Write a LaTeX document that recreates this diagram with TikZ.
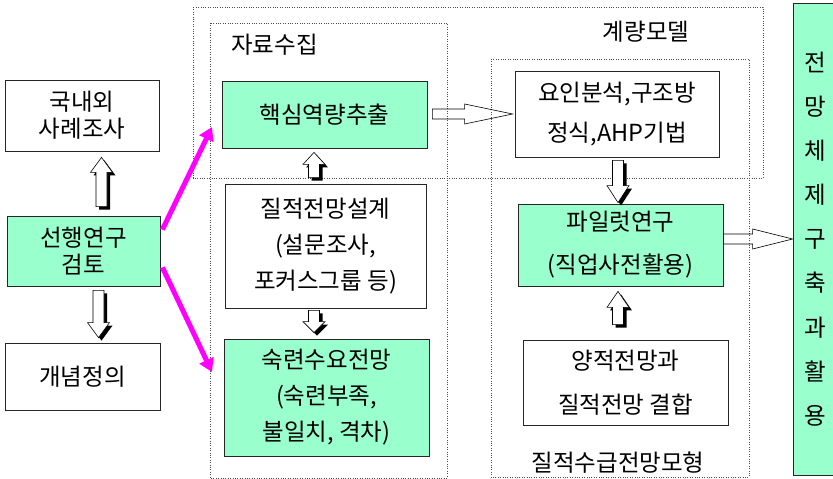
\documentclass[tikz,border=0pt]{standalone}
\usepackage{fontspec}
\newfontfamily\kr{Noto Sans CJK KR}
\usetikzlibrary{calc,arrows.meta}
\definecolor{mint}{RGB}{153,255,204}
\definecolor{magn}{RGB}{255,0,255}
\newcommand\vpoly[4]{let \p1=(#1), \p2=(#2), \n1={sign(\y2-\y1)}, \n2={#4} in
 ({\x1-5.5pt+\n2},{\y1-\n2}) -- ({\x1-5.5pt+\n2},{\y2-\n1*#3-\n2}) -- ({\x1-11pt+\n2},{\y2-\n1*#3-\n2}) -- ({\x1+\n2},{\y2-\n2}) -- ({\x1+11pt+\n2},{\y2-\n1*#3-\n2}) -- ({\x1+5.5pt+\n2},{\y2-\n1*#3-\n2}) -- ({\x1+5.5pt+\n2},{\y1-\n2}) -- cycle}
\newcommand\hpoly[3]{let \p1=(#1), \p2=(#2) in (\x1,{\y2+5pt}) -- ({\x2-#3},{\y2+5pt}) -- ({\x2-#3},{\y2+10pt}) -- (\x2,\y2) -- ({\x2-#3},{\y2-10pt}) -- ({\x2-#3},{\y2-5pt}) -- (\x1,{\y2-5pt}) -- cycle}
\tikzset{
 box/.style={draw=black!85, line width=0.8pt, fill=white, align=center, inner sep=0pt, font=\kr\fontsize{23.5}{27}\selectfont},
 gbox/.style={box, fill=mint},
 grp/.style={draw=black!70, line width=0.6pt, dash pattern=on 0.8pt off 1.6pt},
 mag/.style={draw=magn, line width=5pt, -{Triangle[length=13pt,width=15pt]}},
 harr/.style={draw=black, line width=0.6pt},
 vshadow/.style={fill=black},
 varr/.style={fill=white, draw=black, line width=0.6pt},
 lab/.style={font=\kr\fontsize{23.5}{27}\selectfont, inner sep=0pt}
}
\begin{document}
\begin{tikzpicture}[x=1pt,y=-1pt]
\useasboundingbox (0,0) rectangle (833,479);
\clip (0,0) rectangle (833,479);
% group boxes
\draw[grp] (193,7) rectangle (763,178);
\draw[grp] (210,23) rectangle (447,478);
\draw[grp] (491,59) rectangle (749,477);
\node[lab, anchor=west] (lab1) at (231,45) {자료수집};
\node[lab] (lab2) at (646,32) {계량모델};
\node[lab] (lab3) at (618,463) {질적수급전망모형};
% nodes
\node[box, minimum width=154pt, minimum height=71pt] (ref) at (82,115.5) {국내외\\사례조사};
\node[gbox, minimum width=153pt, minimum height=70pt] (sh) at (83.5,251) {선행연구\\검토};
\node[box, minimum width=155pt, minimum height=67pt] (def) at (82.5,376.5) {개념정의};
\node[gbox, minimum width=205pt, minimum height=67pt] (core) at (324.5,114.5) {핵심역량추출};
\node[box, minimum width=201pt, minimum height=124pt, font=\kr\fontsize{23.5}{36}\selectfont] (qd) at (325.5,246) {질적전망설계\\(설문조사,\\포커스그룹 등)};
\node[gbox, minimum width=205pt, minimum height=117pt, font=\kr\fontsize{23.5}{36}\selectfont] (sk) at (326.5,397.5) {숙련수요전망\\(숙련부족,\\불일치, 격차)};
\node[box, minimum width=204pt, minimum height=86pt, font=\kr\fontsize{23.5}{40}\selectfont] (fa) at (617,114) {요인분석,구조방\\정식,AHP기법};
\node[gbox, minimum width=205pt, minimum height=82pt, font=\kr\fontsize{23.5}{43}\selectfont] (pil) at (620.5,245) {파일럿연구\\(직업사전활용)};
\node[box, minimum width=205pt, minimum height=85pt, font=\kr\fontsize{23.5}{44}\selectfont] (qq) at (625.5,382.5) {양적전망과\\질적전망 결합};
\node[gbox, minimum width=44pt, minimum height=472pt, font=\kr\fontsize{23.5}{44.1}\selectfont] (sys) at (815,239) {전\\망\\체\\제\\구\\축\\과\\활\\용};
% magenta arrows
\coordinate (t1) at (212,127);
\coordinate (t2) at (212,372);
\draw[mag] ($(sh.north east)+(2,14)$) -- (t1);
\draw[mag] ($(sh.south east)+(2,-19)$) -- (t2);
% block arrows (vertical, with shadow)
\fill[vshadow] \vpoly{$(sh.north)+(18,-9)$}{$(ref.south)+(18,6)$}{15pt}{3};
\filldraw[varr] \vpoly{$(sh.north)+(18,-9)$}{$(ref.south)+(18,6)$}{15pt}{0};
\fill[vshadow] \vpoly{$(sh.south)+(15,4)$}{$(def.north)+(16,-5)$}{15pt}{3};
\filldraw[varr] \vpoly{$(sh.south)+(15,4)$}{$(def.north)+(16,-5)$}{15pt}{0};
\fill[vshadow] \vpoly{$(qd.north)+(-11.5,-6)$}{$(core.south)+(-10.5,4)$}{12pt}{3};
\filldraw[varr] \vpoly{$(qd.north)+(-11.5,-6)$}{$(core.south)+(-10.5,4)$}{12pt}{0};
\fill[vshadow] \vpoly{$(qd.south)+(-11.5,2)$}{$(sk.north)+(-12.5,-6)$}{11pt}{3};
\filldraw[varr] \vpoly{$(qd.south)+(-11.5,2)$}{$(sk.north)+(-12.5,-6)$}{11pt}{0};
\fill[vshadow] \vpoly{$(fa.south)+(1,3)$}{$(pil.north)+(-2.5,-1)$}{17pt}{3};
\filldraw[varr] \vpoly{$(fa.south)+(1,3)$}{$(pil.north)+(-2.5,-1)$}{17pt}{0};
\fill[vshadow] \vpoly{$(qq.north)+(-7.5,-15)$}{$(pil.south)+(-2.5,5)$}{16pt}{3};
\filldraw[varr] \vpoly{$(qq.north)+(-7.5,-15)$}{$(pil.south)+(-2.5,5)$}{16pt}{0};
% block arrows (horizontal, outline only)
\draw[harr] \hpoly{$(core.east)+(5,0)$}{$(fa.west)+(-2,0)$}{48pt};
\draw[harr] \hpoly{pil.east}{sys.west}{40pt};
\end{tikzpicture}
\end{document}
